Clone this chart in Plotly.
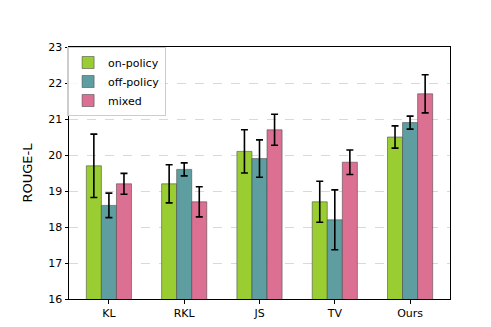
import plotly.graph_objects as go

# Data
methods = ["KL", "RKL", "JS", "TV", "Ours"]
on_policy = [19.7, 19.2, 20.1, 18.7, 20.5]
on_policy_err = [0.88, 0.53, 0.60, 0.57, 0.31]
off_policy = [18.6, 19.6, 19.9, 18.2, 20.9]
off_policy_err = [0.34, 0.18, 0.52, 0.83, 0.18]
mixed = [19.2, 18.7, 20.7, 19.8, 21.7]
mixed_err = [0.29, 0.42, 0.43, 0.34, 0.53]

series = [
    ("on-policy", on_policy, on_policy_err, "#9ACD32"),
    ("off-policy", off_policy, off_policy_err, "#5F9EA0"),
    ("mixed", mixed, mixed_err, "#DB7093"),
]

x_pos = list(range(len(methods)))

fig = go.Figure()
for name, vals, errs, color in series:
    fig.add_trace(go.Bar(
        x=x_pos, y=vals, name=name,
        marker=dict(color=color, line=dict(color="rgba(70,70,70,0.55)", width=1)),
        error_y=dict(type="data", array=errs, color="black", thickness=1.6, width=3.5),
    ))

fig.update_layout(
    width=491, height=327,
    margin=dict(l=61, r=49, t=39, b=36),
    plot_bgcolor="white", paper_bgcolor="white",
    font=dict(family="DejaVu Sans", size=11, color="black"),
    barmode="group", bargap=0.4, bargroupgap=0,
    showlegend=True,
    legend=dict(
        x=-0.005, y=1.0, xanchor="left", yanchor="top",
        bgcolor="rgba(255,255,255,0.8)", bordercolor="#cccccc", borderwidth=1,
        font=dict(size=11), tracegroupgap=0, itemwidth=30,
    ),
)

fig.update_xaxes(
    range=[-0.53, 4.53], tickvals=x_pos, ticktext=methods,
    showgrid=False, ticks="outside", ticklen=3.5, tickcolor="black",
    showline=True, linecolor="black", linewidth=1, mirror=True,
)
fig.update_yaxes(
    range=[16, 23], dtick=1, title=dict(text="ROUGE-L", standoff=12),
    showgrid=True, gridcolor="#d9d9d9", griddash="dash", gridwidth=1,
    ticks="outside", ticklen=3.5, tickcolor="black",
    showline=True, linecolor="black", linewidth=1, mirror=True,
    zeroline=False,
)

fig.write_html("out.html")
